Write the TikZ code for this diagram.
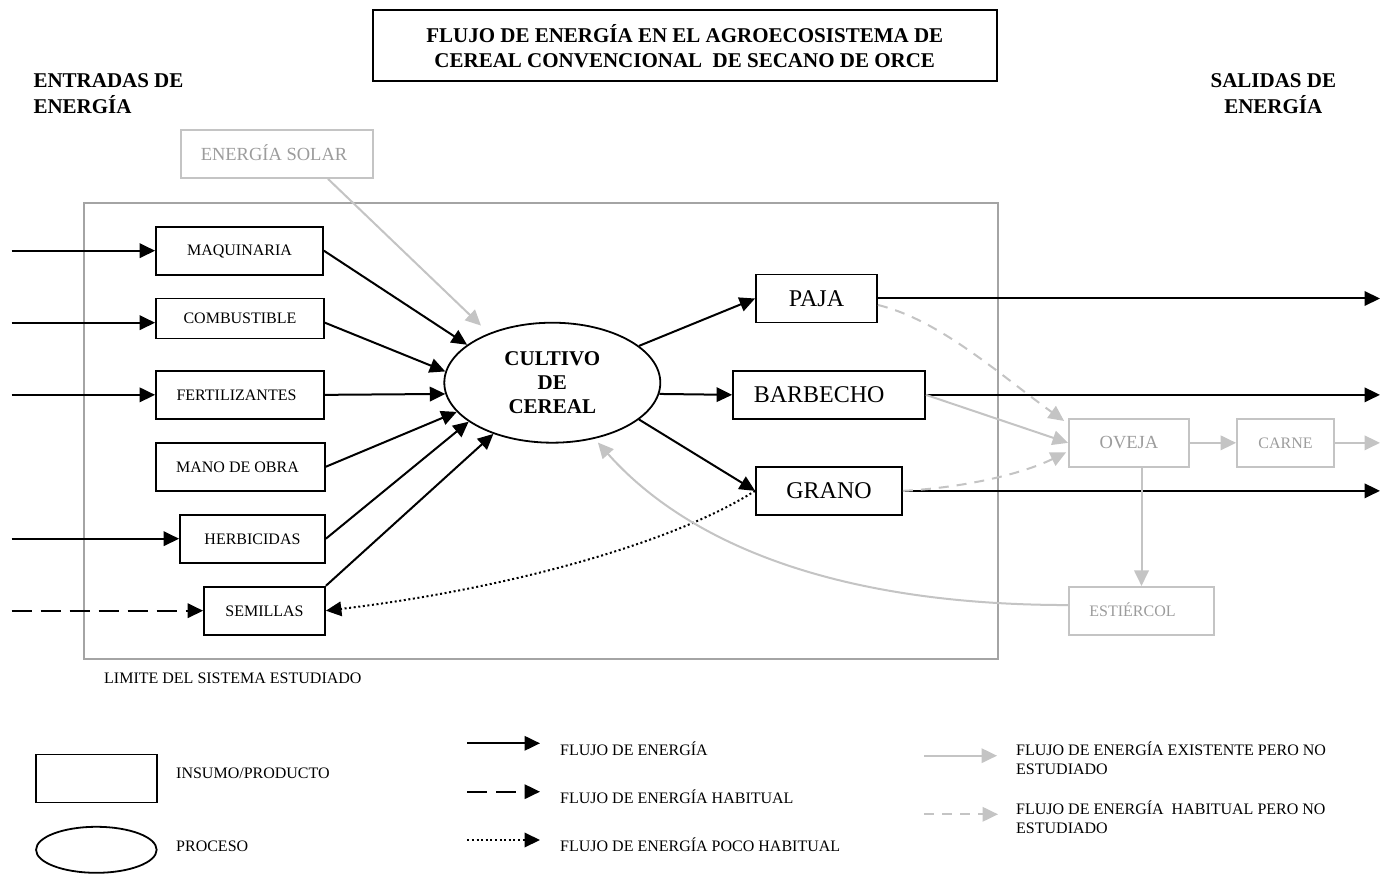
\documentclass[tikz,border=0pt]{standalone}
\usepackage{fontspec}
\setmainfont{Liberation Serif}
\usetikzlibrary{arrows.meta,shapes.geometric}

\definecolor{boxgrey}{HTML}{C4C4C4}
\definecolor{txtgrey}{HTML}{9C9C9C}
\definecolor{framegrey}{HTML}{A4A4A4}

\tikzset{
  every node/.style={inner sep=0pt},
  sm/.style={font=\fontsize{16}{19}\selectfont},
  inbox/.style={draw, line width=1.8pt, rectangle, sm, text height=10.6pt, text depth=0pt},
  outbox/.style={draw, line width=1.8pt, rectangle, font=\fontsize{24}{28}\selectfont, text height=15.9pt, text depth=0pt},
  greybox/.style={draw=boxgrey, line width=1.8pt, rectangle, text=txtgrey, sm, text height=10.6pt, text depth=0pt},
  bigger/.style={font=\fontsize{18.5}{22}\selectfont, text height=12.2pt},
  heading/.style={font=\fontsize{21}{25.7}\selectfont\bfseries},
  tip/.style={-{Triangle[length=15.5pt,width=14.5pt]}},
  flow/.style={line width=2pt, tip},
  habit/.style={flow, dash pattern=on 20pt off 9pt},
  rare/.style={flow, dash pattern=on 2pt off 2.6pt},
  ghost/.style={line width=2pt, draw=boxgrey, tip},
  ghostdash/.style={ghost, dash pattern=on 10pt off 8pt},
  lbl/.style={sm, anchor=base west}
}

\begin{document}
\begin{tikzpicture}[x=1pt, y=-1pt]
  \fill[white] (0,0) rectangle (1389,874);
  \useasboundingbox (0,0) rectangle (1389,874);

  % title and column headings
  \node[draw, line width=2pt, minimum width=624pt, minimum height=71.5pt, align=center,
        font=\fontsize{21}{25}\selectfont\bfseries] (title) at (684.75,45.75)
        {FLUJO DE ENERGÍA EN EL AGROECOSISTEMA DE\\CEREAL CONVENCIONAL\ \ DE SECANO DE ORCE};
  \node[heading, align=left, anchor=west] (entradas) at (33.3,93.4) {ENTRADAS DE\\ENERGÍA};
  \node[heading, align=center] (salidas) at (1273.3,93.4) {SALIDAS DE\\ENERGÍA};

  % boundary of the studied system
  \node[draw=framegrey, line width=2pt, minimum width=913.5pt, minimum height=455.8pt] (limit) at (540.75,430.6) {};
  \node[lbl] (limlabel) at (104,683.3) {LIMITE DEL SISTEMA ESTUDIADO};

  % inputs
  \node[greybox, bigger, minimum width=192pt, minimum height=48pt] (solar) at (277,154) {ENERGÍA SOLAR\hspace*{6pt}};
  \node[inbox, minimum width=167pt, minimum height=48pt] (maq) at (239.5,250.7) {MAQUINARIA};
  \node[inbox, minimum width=168pt, minimum height=40pt] (comb) at (240,318.5) {COMBUSTIBLE};
  \node[inbox, minimum width=168pt, minimum height=48pt] (fert) at (240,394.85) {FERTILIZANTES\hspace*{7pt}};
  \node[inbox, minimum width=169pt, minimum height=48pt] (mano) at (240.5,466.7) {MANO DE OBRA\hspace*{6pt}};
  \node[inbox, minimum width=145pt, minimum height=48pt] (herb) at (252.5,538.7) {HERBICIDAS};
  \node[inbox, minimum width=121pt, minimum height=48pt] (sem) at (264.5,610.7) {SEMILLAS};

  % process
  \node[ellipse, draw, line width=1.8pt, minimum width=216pt, minimum height=120pt, align=center,
        font=\fontsize{21}{24}\selectfont\bfseries] (cult) at (552.3,382.7) {CULTIVO\\DE\\CEREAL};

  % products
  \node[outbox, minimum width=121pt, minimum height=48pt] (paja) at (816.5,298.5) {PAJA};
  \node[outbox, minimum width=192pt, minimum height=48pt] (barb) at (829,394.85) {BARBECHO\hspace*{19.6pt}};
  \node[outbox, minimum width=146pt, minimum height=48pt] (gran) at (829,490.85) {GRANO};

  % livestock outside the system
  \node[greybox, bigger, minimum width=120pt, minimum height=48pt] (oveja) at (1129,442.85) {OVEJA};
  \node[greybox, minimum width=97pt, minimum height=48pt] (carne) at (1285.5,442.85) {CARNE};
  \node[greybox, minimum width=145pt, minimum height=48pt] (estie) at (1141.5,610.85) {ESTIÉRCOL\hspace*{18pt}};

  % free ends on the left and right margins
  \coordinate (inx) at (11.7,0);
  \coordinate (outx) at (1380,0);
  \coordinate (combin) at ([yshift=-4.2pt]comb.west);
  \coordinate (combout) at ([yshift=-4.2pt]comb.east);

  % energy entering the inputs
  \draw[flow] (inx |- maq.west) -- (maq.west);
  \draw[flow] (inx |- combin) -- (combin);
  \draw[flow] (inx |- fert.west) -- (fert.west);
  \draw[flow] (inx |- herb.west) -- (herb.west);
  \draw[habit] (inx |- sem.west) -- (sem.west);

  % inputs into the crop
  \draw[flow] (maq.east) -- (cult.156);
  \draw[flow] (combout) -- (cult.174);
  \draw[flow] (fert.east) -- (cult.186);
  \draw[flow] (mano.east) -- (cult.197);
  \draw[flow] (herb.east) -- (cult.205);
  \draw[flow] (sem.north east) -- (cult.221);
  \draw[ghost, shorten >=11pt] ([xshift=51pt]solar.south) -- (cult.142);

  % crop into products
  \draw[flow] (cult.23) -- (paja.west);
  \draw[flow] (cult.-6) -- (barb.west);
  \draw[flow] (cult.-23) -- (gran.west);

  % products leaving the system
  \draw[flow] (paja.east) -- (paja.east -| outx);
  \draw[flow] (barb.east) -- (barb.east -| outx);
  \draw[flow] (gran.east) -- (gran.east -| outx);

  % seed saved from the grain
  \draw[rare] (gran.west) .. controls (670,545) and (500,590) .. (sem.east);

  % flows through the sheep
  \draw[ghostdash] ([yshift=-6.5pt]paja.east) .. controls (940,320) and (1000,375) .. ([shift={(-4pt,-3pt)}]oveja.north west);
  \draw[ghost] (barb.east) -- (oveja.west);
  \draw[ghostdash] (gran.east) .. controls (960,488) and (1020,475) .. ([shift={(-2pt,-9.5pt)}]oveja.west);
  \draw[ghost] (oveja.east) -- (carne.west);
  \draw[ghost] (carne.east) -- (carne.east -| outx);
  \draw[ghost] (oveja.south -| estie.north) -- (estie.north);
  \draw[ghost, shorten >=5pt] ([yshift=5.8pt]estie.west) .. controls (820,605) and (680,535) .. (cult.-53);

  % legend: shapes
  \node[inbox, minimum width=121pt, minimum height=48pt] (lgbox) at (96.5,778.5) {};
  \node[lbl] (lgboxtxt) at (176,778.6) {INSUMO/PRODUCTO};
  \node[ellipse, draw, line width=1.8pt, minimum width=120.6pt, minimum height=46pt] (lgell) at (96.35,849.8) {};
  \node[lbl] (lgelltxt) at (176,851) {PROCESO};

  % legend: black flows
  \coordinate (la1) at (467.3,743.3); \coordinate (lb1) at (540,743.3);
  \coordinate (la2) at (467.3,791.7); \coordinate (lb2) at (540,791.7);
  \coordinate (la3) at (467.3,840);   \coordinate (lb3) at (540,840);
  \draw[flow] (la1) -- (lb1);
  \draw[habit] (la2) -- (lb2);
  \draw[rare] (la3) -- (lb3);
  \node[lbl] (lt1) at (560,755.3) {FLUJO DE ENERGÍA};
  \node[lbl] (lt2) at (560,803.6) {FLUJO DE ENERGÍA HABITUAL};
  \node[lbl] (lt3) at (560,851) {FLUJO DE ENERGÍA POCO HABITUAL};

  % legend: grey flows
  \coordinate (la4) at (924,755.7); \coordinate (lb4) at (997,755.7);
  \coordinate (la5) at (924,814.3); \coordinate (lb5) at (998,814.3);
  \draw[ghost] (la4) -- (lb4);
  \draw[ghostdash] (la5) -- (lb5);
  \node[sm, align=left, anchor=west] (lt4) at (1016,757.8) {FLUJO DE ENERGÍA EXISTENTE PERO NO\\ESTUDIADO};
  \node[sm, align=left, anchor=west] (lt5) at (1016,816.8) {FLUJO DE ENERGÍA\ \ HABITUAL PERO NO\\ESTUDIADO};
\end{tikzpicture}
\end{document}
